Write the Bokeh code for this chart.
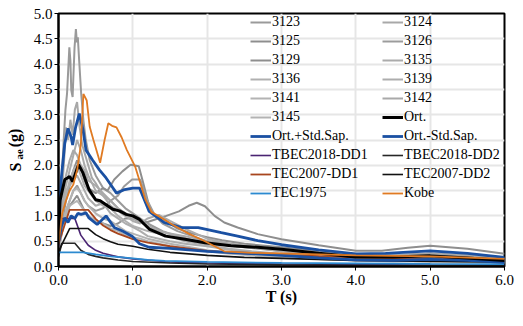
from math import pi
from bokeh.plotting import figure
from bokeh.layouts import row
from bokeh.core.properties import value
from bokeh.models import Legend, LegendItem, FixedTicker, PrintfTickFormatter
from bokeh.embed import file_html
from bokeh.resources import INLINE

# ---------------- data ----------------
T_3123 = [0, 0.04, 0.07, 0.093, 0.115, 0.146, 0.16, 0.172, 0.19, 0.2, 0.216, 0.234, 0.247, 0.26, 0.278, 0.305, 0.335, 0.367, 0.42, 0.5, 0.6, 0.7, 0.8, 0.9, 1.0, 1.2, 1.4, 1.6, 1.8, 2.0, 2.5, 3.0, 3.5, 4.0, 4.5, 5.0, 5.5, 6.0]
S_3123 = [0.55, 1.6, 2.5, 3.09, 3.42, 4.33, 4.07, 3.48, 3.35, 3.74, 4.33, 4.69, 4.43, 4.53, 4.07, 3.42, 2.89, 2.5, 2.1, 1.8, 1.55, 1.45, 1.3, 1.15, 1.05, 0.85, 0.7, 0.6, 0.52, 0.47, 0.38, 0.3, 0.25, 0.2, 0.18, 0.19, 0.16, 0.13]

T_3124 = [0, 0.04, 0.08, 0.1, 0.13, 0.16, 0.19, 0.22, 0.25, 0.28, 0.32, 0.36, 0.4, 0.45, 0.5, 0.6, 0.7, 0.8, 0.9, 1.0, 1.2, 1.4, 1.6, 1.8, 2.0, 2.5, 3.0, 3.5, 4.0, 4.5, 5.0, 5.5, 6.0]
S_3124 = [0.5, 1.3, 2.2, 2.75, 2.5, 2.9, 2.6, 3.1, 3.25, 2.8, 2.4, 2.2, 2.0, 1.75, 1.65, 1.4, 1.3, 1.15, 1.05, 0.95, 0.8, 0.68, 0.6, 0.52, 0.46, 0.38, 0.33, 0.28, 0.24, 0.22, 0.25, 0.2, 0.16]

T_3125 = [0, 0.05, 0.1, 0.15, 0.2, 0.25, 0.3, 0.35, 0.4, 0.5, 0.6, 0.66, 0.75, 0.86, 0.97, 1.08, 1.14, 1.23, 1.3, 1.4, 1.6, 1.8, 2.0, 2.2, 2.5, 3.0, 3.5, 4.0, 4.5, 5.0, 5.5, 6.0]
S_3125 = [0.45, 0.9, 1.3, 1.6, 1.9, 2.1, 1.95, 1.7, 1.55, 1.45, 1.55, 1.5, 1.72, 1.88, 2.01, 1.98, 1.65, 1.13, 1.0, 0.95, 0.75, 0.65, 0.58, 0.52, 0.45, 0.38, 0.3, 0.24, 0.22, 0.24, 0.2, 0.15]

T_3126 = [0, 0.05, 0.1, 0.15, 0.2, 0.25, 0.3, 0.35, 0.4, 0.5, 0.6, 0.7, 0.8, 0.88, 0.99, 1.1, 1.19, 1.3, 1.4, 1.6, 1.8, 2.0, 2.2, 2.5, 3.0, 3.5, 4.0, 4.5, 5.0, 5.5, 6.0]
S_3126 = [0.4, 0.8, 1.1, 1.3, 1.5, 1.6, 1.45, 1.3, 1.2, 1.1, 1.15, 1.3, 1.4, 1.58, 1.72, 1.72, 1.32, 1.0, 0.85, 0.7, 0.6, 0.5, 0.45, 0.4, 0.33, 0.27, 0.22, 0.2, 0.22, 0.18, 0.14]

T_3129 = [0, 0.05, 0.1, 0.15, 0.2, 0.25, 0.3, 0.35, 0.4, 0.5, 0.6, 0.7, 0.8, 0.9, 1.0, 1.1, 1.2, 1.3, 1.45, 1.62, 1.75, 1.86, 1.97, 2.1, 2.23, 2.41, 2.68, 3.0, 3.5, 4.0, 4.35, 4.7, 5.0, 5.5, 6.0]
S_3129 = [0.35, 0.7, 1.0, 1.2, 1.3, 1.4, 1.25, 1.1, 1.0, 0.9, 0.85, 0.8, 0.85, 0.95, 0.95, 0.9, 0.88, 0.93, 1.0, 1.09, 1.2, 1.26, 1.19, 1.0, 0.87, 0.77, 0.64, 0.54, 0.42, 0.31, 0.31, 0.37, 0.41, 0.35, 0.25]

T_rest = [0, 0.05, 0.1, 0.15, 0.2, 0.25, 0.3, 0.35, 0.4, 0.5, 0.6, 0.7, 0.8, 0.9, 1.0, 1.1, 1.2, 1.35, 1.5, 1.7, 2.0, 2.3, 2.6, 3.0, 3.5, 4.0, 4.5, 5.0, 5.5, 6.0]
S_3135 = [0.5, 1.2, 1.6, 1.9, 2.2, 2.5, 2.3, 2.0, 1.8, 1.5, 1.4, 1.2, 1.1, 1.0, 0.9, 0.85, 0.95, 1.02, 0.9, 0.75, 0.55, 0.45, 0.38, 0.3, 0.25, 0.2, 0.18, 0.2, 0.16, 0.12]
S_3136 = [0.4, 1.0, 1.4, 1.7, 1.9, 2.0, 1.8, 1.6, 1.5, 1.3, 1.2, 1.15, 1.0, 0.9, 0.8, 0.75, 0.7, 0.65, 0.6, 0.5, 0.42, 0.35, 0.3, 0.25, 0.2, 0.17, 0.15, 0.16, 0.13, 0.1]
S_3139 = [0.45, 1.1, 1.5, 1.6, 1.7, 1.8, 1.65, 1.5, 1.35, 1.2, 1.25, 1.05, 0.95, 0.85, 0.78, 0.7, 0.6, 0.55, 0.5, 0.45, 0.4, 0.33, 0.28, 0.22, 0.18, 0.15, 0.13, 0.14, 0.12, 0.09]
S_3141 = [0.35, 0.8, 1.1, 1.3, 1.5, 1.55, 1.45, 1.3, 1.2, 1.05, 0.95, 0.9, 0.8, 0.7, 0.65, 0.6, 0.55, 0.5, 0.45, 0.4, 0.32, 0.27, 0.23, 0.19, 0.15, 0.12, 0.11, 0.12, 0.1, 0.08]
S_3142 = [0.55, 1.3, 1.8, 2.1, 2.3, 2.2, 2.0, 1.9, 1.7, 1.6, 1.45, 1.3, 1.15, 1.05, 0.95, 0.9, 0.8, 0.7, 0.65, 0.6, 0.5, 0.45, 0.4, 0.34, 0.28, 0.24, 0.22, 0.26, 0.22, 0.17]
S_3145 = [0.3, 0.7, 1.0, 1.2, 1.25, 1.3, 1.2, 1.1, 1.0, 0.9, 0.85, 0.75, 0.7, 0.62, 0.58, 0.55, 0.5, 0.45, 0.4, 0.35, 0.3, 0.25, 0.22, 0.18, 0.15, 0.12, 0.1, 0.11, 0.09, 0.07]

T_mean = [0, 0.02, 0.05, 0.085, 0.12, 0.15, 0.19, 0.23, 0.27, 0.33, 0.41, 0.5, 0.56, 0.64, 0.73, 0.82, 0.91, 1.0, 1.09, 1.22, 1.44, 1.7, 1.97, 2.32, 2.68, 3.0, 3.5, 4.0, 4.5, 5.0, 5.5, 6.0]
S_mean = [0.55, 1.3, 1.5, 1.72, 1.75, 1.78, 1.68, 1.85, 2.01, 1.85, 1.52, 1.32, 1.3, 1.22, 1.13, 1.1, 1.03, 1.0, 0.93, 0.74, 0.6, 0.54, 0.47, 0.41, 0.38, 0.34, 0.26, 0.19, 0.19, 0.21, 0.17, 0.12]

T_plus = [0, 0.04, 0.084, 0.128, 0.17, 0.19, 0.23, 0.28, 0.33, 0.37, 0.46, 0.55, 0.64, 0.71, 0.78, 0.89, 1.0, 1.09, 1.22, 1.42, 1.66, 1.88, 2.19, 2.41, 2.68, 3.0, 3.5, 4.0, 4.4, 5.0, 5.5, 6.0]
S_plus = [0.9, 1.78, 2.43, 2.73, 2.56, 2.4, 2.75, 3.02, 2.7, 2.3, 2.1, 1.91, 1.75, 1.6, 1.45, 1.52, 1.55, 1.55, 1.09, 0.87, 0.77, 0.77, 0.67, 0.6, 0.51, 0.43, 0.33, 0.25, 0.26, 0.31, 0.26, 0.18]

T_minus = [0, 0.04, 0.084, 0.128, 0.17, 0.22, 0.26, 0.305, 0.37, 0.41, 0.52, 0.64, 0.75, 0.86, 0.99, 1.09, 1.22, 1.5, 2.0, 2.68, 3.0, 3.5, 4.0, 4.5, 5.0, 5.5, 6.0]
S_minus = [0.47, 0.8, 0.96, 0.87, 1.0, 0.95, 1.05, 1.03, 1.06, 0.96, 0.83, 1.0, 0.77, 0.7, 0.6, 0.45, 0.38, 0.36, 0.3, 0.25, 0.22, 0.17, 0.13, 0.12, 0.14, 0.12, 0.08]

T_tbec = [0, 0.045, 0.22, 0.3, 0.4, 0.5, 0.6, 0.8, 1.0, 1.5, 2.0, 3.0, 4.0, 5.0, 6.0]
S_tbec_dd1 = [0.38, 0.95, 0.95, 0.62, 0.42, 0.32, 0.26, 0.19, 0.15, 0.09, 0.07, 0.05, 0.04, 0.03, 0.025]
S_tbec_dd2 = [0.19, 0.46, 0.46, 0.32, 0.24, 0.2, 0.17, 0.13, 0.1, 0.07, 0.05, 0.033, 0.025, 0.02, 0.017]

T_tec07 = [0, 0.15, 0.4, 0.5, 0.6, 0.7, 0.8, 1.0, 1.2, 1.5, 2.0, 2.5, 3.0, 4.0, 5.0, 6.0]
S_tec07_dd1 = [0.45, 1.12, 1.12, 0.94, 0.81, 0.72, 0.65, 0.54, 0.47, 0.4, 0.31, 0.26, 0.23, 0.18, 0.15, 0.13]
S_tec07_dd2 = [0.3, 0.75, 0.75, 0.63, 0.55, 0.49, 0.44, 0.4, 0.34, 0.28, 0.22, 0.18, 0.16, 0.12, 0.1, 0.09]

T_tec75 = [0, 0.33, 0.5, 0.7, 0.86, 1.0, 1.2, 1.43, 2.0, 3.0, 4.0, 5.0, 6.0]
S_tec75 = [0.28, 0.28, 0.24, 0.2, 0.18, 0.16, 0.13, 0.11, 0.09, 0.07, 0.06, 0.05, 0.045]

T_kobe = [0, 0.05, 0.1, 0.15, 0.2, 0.25, 0.3, 0.335, 0.38, 0.42, 0.47, 0.5, 0.56, 0.62, 0.67, 0.72, 0.78, 0.85, 0.92, 1.03, 1.1, 1.17, 1.25, 1.4, 1.53, 1.75, 1.97, 2.23, 2.6, 3.0, 4.0, 5.0, 6.0]
S_kobe = [0.45, 1.05, 1.3, 1.5, 1.62, 1.9, 2.4, 3.41, 3.28, 2.76, 2.5, 2.35, 2.05, 2.5, 2.83, 2.78, 2.75, 2.55, 2.3, 1.98, 1.65, 1.32, 1.08, 0.95, 0.83, 0.65, 0.5, 0.3, 0.27, 0.26, 0.22, 0.2, 0.15]

records = [
    ("3123", T_3123, S_3123), ("3124", T_3124, S_3124),
    ("3125", T_3125, S_3125), ("3126", T_3126, S_3126),
    ("3129", T_3129, S_3129), ("3135", T_rest, S_3135),
    ("3136", T_rest, S_3136), ("3139", T_rest, S_3139),
    ("3141", T_rest, S_3141), ("3142", T_rest, S_3142),
    ("3145", T_rest, S_3145),
]
record_colors = ["#9a9a9a", "#a8a8a8", "#8e8e8e", "#9c9c9c", "#8e8e8e", "#ababab",
                 "#b0b0b0", "#adadad", "#b3b3b3", "#a9a9a9", "#b3b3b3"]

x_ticks = [0, 1, 2, 3, 4, 5, 6]
y_ticks = [0, 0.5, 1.0, 1.5, 2.0, 2.5, 3.0, 3.5, 4.0, 4.5, 5.0]

y_title_parts = ["S", "ae", "(g)"]
x_title = "T (s)"

# ---------------- main figure ----------------
FONT = "Liberation Serif"
p = figure(width=487, height=310, x_range=(0, 6), y_range=(0, 5),
           output_backend="svg", toolbar_location=None,
           min_border_left=30, min_border_right=11, min_border_top=13, min_border_bottom=44)
p.background_fill_color = "white"
p.border_fill_color = "white"
p.outline_line_color = "black"
p.outline_line_width = 2

p.xgrid.grid_line_color = "#e6e6e6"
p.ygrid.grid_line_color = "#e6e6e6"
p.xgrid.grid_line_width = 2
p.ygrid.grid_line_width = 2

for ax in (p.xaxis[0], p.yaxis[0]):
    ax.axis_line_color = "black"
    ax.axis_line_width = 2
    ax.major_tick_line_color = "black"
    ax.major_tick_in = 0
    ax.major_tick_out = 4
    ax.minor_tick_line_color = None
    ax.major_label_text_font = FONT
    ax.major_label_text_font_size = "15px"
    ax.major_label_text_color = "black"
    ax.formatter = PrintfTickFormatter(format="%.1f")

p.xaxis.ticker = FixedTicker(ticks=x_ticks)
p.yaxis.ticker = FixedTicker(ticks=y_ticks)
p.xaxis.major_label_standoff = 4
p.yaxis.major_label_standoff = 2
p.xaxis.axis_label = x_title
p.xaxis.axis_label_text_font = FONT
p.xaxis.axis_label_text_font_style = "bold"
p.xaxis.axis_label_text_font_size = "16px"
p.xaxis.axis_label_text_color = "black"
p.xaxis.axis_label_standoff = 0

rend = {}
for (name, t, s), c in zip(records, record_colors):
    rend[name] = p.line(t, s, line_color=c, line_width=2)

rend["TBEC2018-DD1"] = p.line(T_tbec, S_tbec_dd1, line_color="#4a2472", line_width=1.6)
rend["TBEC2018-DD2"] = p.line(T_tbec, S_tbec_dd2, line_color="#262626", line_width=1.6)
rend["TEC2007-DD1"] = p.line(T_tec07, S_tec07_dd1, line_color="#a8461e", line_width=1.8)
rend["TEC2007-DD2"] = p.line(T_tec07, S_tec07_dd2, line_color="#111111", line_width=1.6)
rend["TEC1975"] = p.line(T_tec75, S_tec75, line_color="#2c8ad0", line_width=1.8)
rend["Ort.-Std.Sap."] = p.line(T_minus, S_minus, line_color="#1a50a2", line_width=2.8)
rend["Ort.+Std.Sap."] = p.line(T_plus, S_plus, line_color="#1a50a2", line_width=2.8)
rend["Ort."] = p.line(T_mean, S_mean, line_color="black", line_width=3)
rend["Kobe"] = p.line(T_kobe, S_kobe, line_color="#e07a22", line_width=1.8)

col1 = ["3123", "3125", "3129", "3136", "3141", "3145", "Ort.+Std.Sap.",
        "TBEC2018-DD1", "TEC2007-DD1", "TEC1975"]
col2 = ["3124", "3126", "3135", "3139", "3142", "Ort.", "Ort.-Std.Sap.",
        "TBEC2018-DD2", "TEC2007-DD2", "Kobe"]

def make_legend(names, loc):
    return Legend(items=[LegendItem(label=n, renderers=[rend[n]]) for n in names],
                  location=loc, orientation="vertical",
                  label_text_font=FONT, label_text_font_size="14px",
                  label_text_color="black",
                  glyph_width=21, glyph_height=18, label_height=18, spacing=1,
                  padding=0, margin=0, label_standoff=1,
                  border_line_color=None, background_fill_alpha=0)

p.add_layout(make_legend(col1, (192, 64)))
p.add_layout(make_legend(col2, (324, 64)))

# ---------------- y-axis title (S with subscript ae) in a narrow strip ----------------
# the strip's frame is aligned with the main frame; y is a fraction of the frame height
lab = figure(width=28, height=310, x_range=(0, 28), y_range=(0, 1),
             output_backend="svg", toolbar_location=None,
             x_axis_location=None, y_axis_location=None, min_border=0)
lab.grid.visible = False
lab.outline_line_color = None
lab.background_fill_color = "white"
lab.border_fill_color = "white"
lab.text(x=[15], y=[0.393], text=[y_title_parts[0]], angle=pi / 2,
         text_align="center", text_baseline="middle",
         text_font=value(FONT), text_font_style="bold", text_font_size=value("16px"),
         text_color="black")
lab.text(x=[18], y=[0.443], text=[y_title_parts[1]], angle=pi / 2,
         text_align="center", text_baseline="middle",
         text_font=value(FONT), text_font_style="bold", text_font_size=value("11px"),
         text_color="black")
lab.text(x=[14], y=[0.508], text=[y_title_parts[2]], angle=pi / 2,
         text_align="center", text_baseline="middle",
         text_font=value(FONT), text_font_style="bold", text_font_size=value("16px"),
         text_color="black")

layout = row(lab, p)
open("out.html", "w").write(file_html(layout, INLINE))
